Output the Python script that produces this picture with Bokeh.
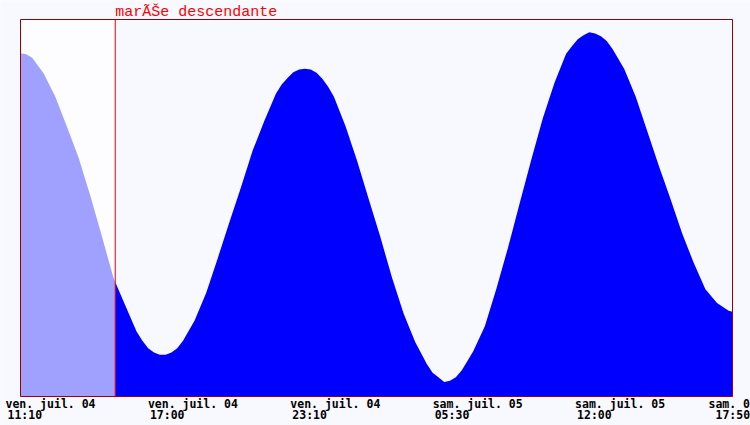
import numpy as np
from bokeh.plotting import figure
from bokeh.models import Range1d, Label, BoxAnnotation
from bokeh.embed import file_html
from bokeh.resources import INLINE

# ---- data (hours since ven. 04 juil. 11:10, tide height in m) ----
hours = [0.0, 0.25, 0.5, 1.0, 1.5, 2.0, 2.5, 3.0, 3.5, 4.0, 4.5, 5.0, 5.25, 5.5,
         5.75, 6.0, 6.25, 6.5, 6.75, 7.0, 7.5, 8.0, 8.5, 9.0, 9.5, 10.0, 10.5,
         11.0, 11.25, 11.5, 11.75, 12.0, 12.25, 12.5, 12.75, 13.0, 13.25, 13.5,
         14.0, 14.5, 15.0, 15.5, 16.0, 16.5, 17.0, 17.5, 17.75, 18.0, 18.25,
         18.5, 18.75, 19.0, 19.25, 19.5, 20.0, 20.5, 21.0, 21.5, 22.0, 22.5,
         23.0, 23.5, 23.75, 24.0, 24.25, 24.5, 24.75, 25.0, 25.25, 25.5, 26.0,
         26.5, 27.0, 27.5, 28.0, 28.5, 29.0, 29.5, 30.0, 30.5, 30.667]
heights = [5.92, 5.90, 5.84, 5.57, 5.17, 4.65, 4.12, 3.47, 2.77, 2.05, 1.58, 1.12,
           0.96, 0.83, 0.76, 0.72, 0.72, 0.76, 0.83, 0.96, 1.31, 1.79, 2.39, 3.01,
           3.61, 4.24, 4.75, 5.22, 5.38, 5.49, 5.59, 5.64, 5.65, 5.64, 5.58, 5.48,
           5.34, 5.17, 4.66, 4.06, 3.40, 2.75, 2.05, 1.43, 0.94, 0.56, 0.41, 0.33,
           0.25, 0.27, 0.33, 0.45, 0.61, 0.78, 1.21, 1.86, 2.57, 3.33, 4.08, 4.80,
           5.41, 5.91, 6.04, 6.16, 6.23, 6.28, 6.26, 6.21, 6.13, 5.99, 5.65, 5.17,
           4.57, 3.97, 3.40, 2.81, 2.30, 1.85, 1.61, 1.48, 1.46]
now_hours = 4.08
span_hours = 30.667
y_max = 6.5
tick_dates = ["ven. juil. 04", "ven. juil. 04", "ven. juil. 04",
              "sam. juil. 05", "sam. juil. 05", "sam. 05"]
tick_times = ["11:10", "17:00", "23:10", "05:30", "12:00", "17:50"]
title_text = "marÃŠe descendante"

# ---- layout (pixels) ----
W, H = 750, 425
PL, PR, PT, PB = 20, 18, 19, 29          # plot box margins inside the image
BG = "#F8F8FF"
FRAME = "#990000"

ppx_x = (W - PL - PR) / span_hours
ppx_y = (H - PT - PB) / y_max
x_range = Range1d(-PL / ppx_x, span_hours + PR / ppx_x)
y_range = Range1d(-PB / ppx_y, y_max + PT / ppx_y)

h = np.array(hours)
v = np.array(heights)
v_now = float(np.interp(now_hours, h, v))
past = h <= now_hours
past_x = list(h[past]) + [now_hours]
past_y = list(v[past]) + [v_now]
fut_x = [now_hours] + list(h[~past])
fut_y = [v_now] + list(v[~past])

p = figure(width=W, height=H, output_backend="svg", toolbar_location=None,
           x_range=x_range, y_range=y_range,
           x_axis_location=None, y_axis_location=None,
           min_border=0, min_border_left=0, min_border_right=0,
           min_border_top=0, min_border_bottom=0,
           background_fill_color=BG, border_fill_color=BG,
           outline_line_color=None)
p.xgrid.visible = False
p.ygrid.visible = False

# lighter background for the elapsed part
p.add_layout(BoxAnnotation(left=0, right=now_hours, bottom=0, top=y_max,
                           fill_color="#FDFDFF", fill_alpha=1.0, line_alpha=0,
                           level="underlay"))

p.varea(x=past_x, y1=0, y2=past_y, fill_color="#A0A0FF")
p.varea(x=fut_x, y1=0, y2=fut_y, fill_color="#0000FF")

# current time line
p.segment(x0=[now_hours], y0=[0], x1=[now_hours], y1=[y_max],
          line_color="#DD0000", line_width=1)

# plot box
p.quad(left=[0], right=[span_hours], bottom=[0], top=[y_max],
       fill_color=None, line_color=FRAME, line_width=1)

p.add_layout(Label(x=now_hours, y=y_max, y_offset=7, text=title_text,
                   text_font="Liberation Mono", text_font_size="15px",
                   text_color="#FF0000", text_align="left",
                   text_baseline="alphabetic"))

n = len(tick_times)
for i in range(n):
    xt = i * span_hours / (n - 1)
    last = i == n - 1
    p.add_layout(Label(x=xt, y=0, x_offset=-24 if last else -15, y_offset=-7,
                       text=tick_dates[i], text_font="DejaVu Sans Mono",
                       text_font_size="11.5px", text_font_style="bold",
                       text_color="#000000", text_align="left",
                       text_baseline="alphabetic"))
    p.add_layout(Label(x=xt, y=0, x_offset=-17 if last else -13, y_offset=-18,
                       text=tick_times[i], text_font="DejaVu Sans Mono",
                       text_font_size="11.5px", text_font_style="bold",
                       text_color="#000000", text_align="left",
                       text_baseline="alphabetic"))

open("out.html", "w").write(file_html(p, INLINE))
